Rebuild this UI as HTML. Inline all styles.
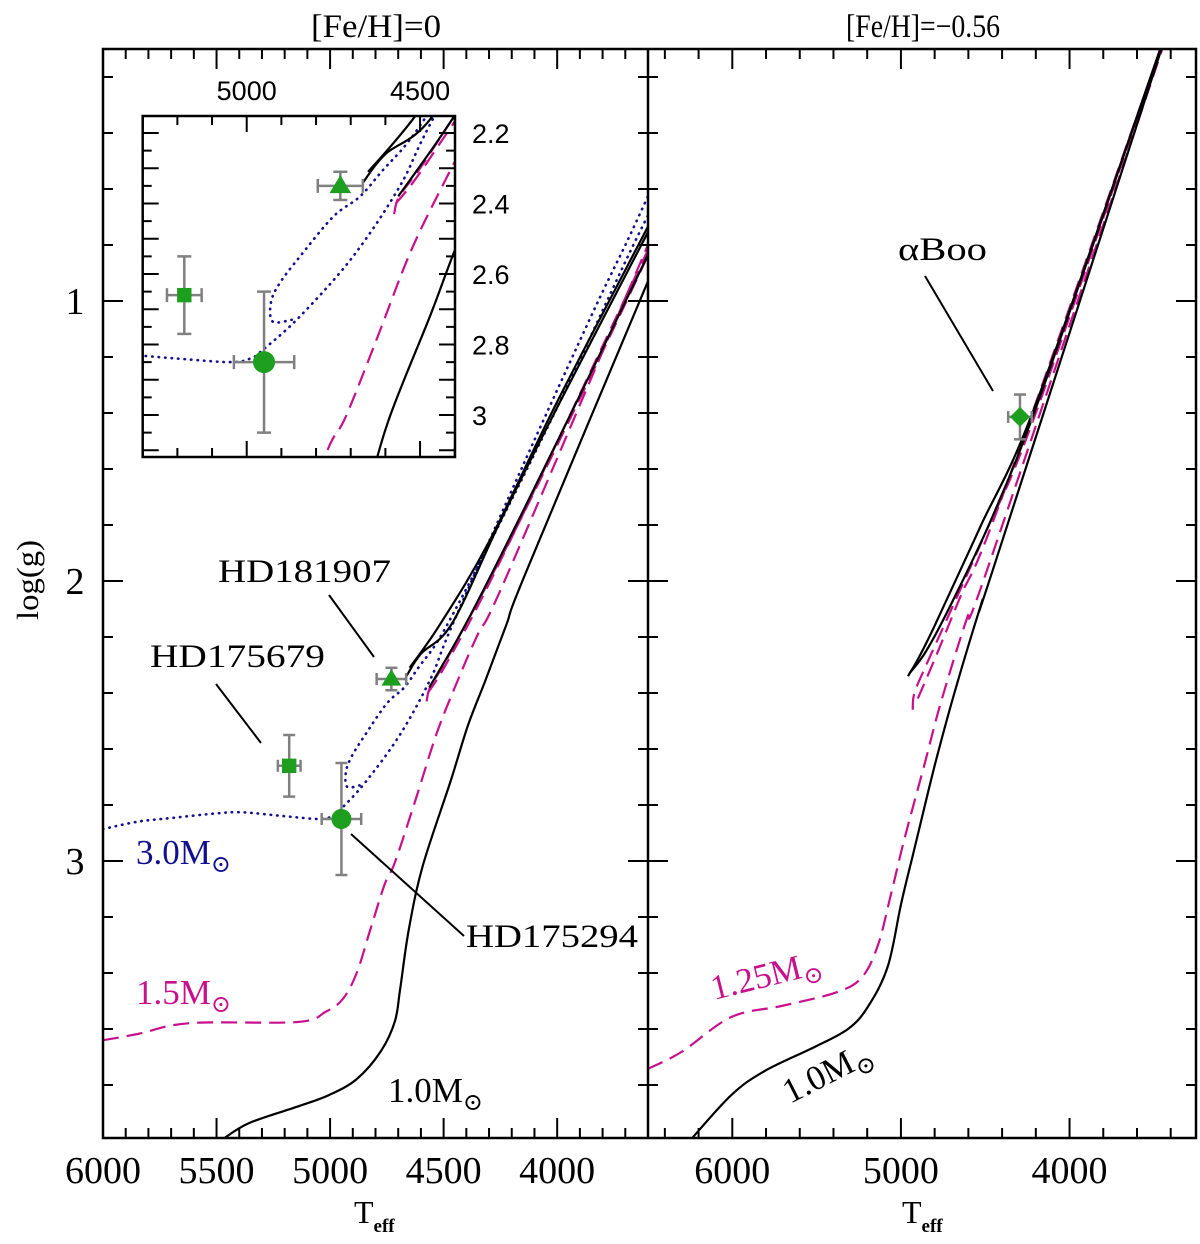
<!DOCTYPE html>
<html><head><meta charset="utf-8"><style>
body{margin:0;background:#fff}
svg{display:block}
.s{font-family:"Liberation Serif","DejaVu Serif",serif}
.ss{font-family:"Liberation Sans","DejaVu Sans",sans-serif}
</style></head><body>
<svg id="c" width="1200" height="1244" viewBox="0 0 1200 1244" xmlns="http://www.w3.org/2000/svg">
<defs>
<clipPath id="clipL"><rect x="103" y="49" width="545" height="1089"/></clipPath>
<clipPath id="clipR"><rect x="648" y="49" width="548" height="1089"/></clipPath>
<clipPath id="clipI"><rect x="142.7" y="116" width="312.3" height="341"/></clipPath>
</defs>
<g id="gL" clip-path="url(#clipL)"></g>
<g id="gR" clip-path="url(#clipR)"></g>
<rect x="142.7" y="116" width="312.3" height="341" fill="#fff"/>
<g id="gI" clip-path="url(#clipI)"></g>
<g id="gAx"></g>
<g id="gPts"></g>
<g id="gTxt">
<text class="s" x="311" y="37" font-size="33" textLength="130" lengthAdjust="spacingAndGlyphs">[Fe/H]=0</text>
<text class="s" x="846" y="37" font-size="33" textLength="154" lengthAdjust="spacingAndGlyphs">[Fe/H]=−0.56</text>
<text class="s" x="0" y="0" font-size="31" text-anchor="middle" textLength="80" lengthAdjust="spacingAndGlyphs" transform="translate(38,580) rotate(-90)">log(g)</text>
<text class="s" x="354" y="1223" font-size="32">T<tspan font-size="19" font-weight="bold" dy="9">eff</tspan></text>
<text class="s" x="902" y="1223" font-size="32">T<tspan font-size="19" font-weight="bold" dy="9">eff</tspan></text>
<text class="s" x="218" y="582" font-size="33" textLength="173" lengthAdjust="spacingAndGlyphs">HD181907</text>
<text class="s" x="150" y="667" font-size="33" textLength="175" lengthAdjust="spacingAndGlyphs">HD175679</text>
<text class="s" x="466" y="947" font-size="33" textLength="172" lengthAdjust="spacingAndGlyphs">HD175294</text>
<text class="s" x="898" y="260" font-size="33" textLength="89" lengthAdjust="spacingAndGlyphs">αBoo</text>
<text class="s" x="136" y="864" font-size="35" fill="#101090">3.0M<tspan font-size="24" dy="8">⊙</tspan></text>
<text class="s" x="136" y="1004" font-size="35" fill="#c8108c">1.5M<tspan font-size="24" dy="8">⊙</tspan></text>
<text class="s" x="388" y="1102" font-size="35" fill="#000">1.0M<tspan font-size="24" dy="8">⊙</tspan></text>
<text class="s" x="0" y="0" font-size="35" fill="#c8108c" transform="translate(714,1000) rotate(-14)">1.25M<tspan font-size="24" dy="8">⊙</tspan></text>
<text class="s" x="0" y="0" font-size="35" fill="#000" transform="translate(790,1104) rotate(-27)">1.0M<tspan font-size="24" dy="8">⊙</tspan></text>
<line x1="329" y1="595" x2="374" y2="657" stroke="#000" stroke-width="2"/>
<line x1="216" y1="684" x2="261" y2="743" stroke="#000" stroke-width="2"/>
<line x1="351" y1="834" x2="464" y2="936" stroke="#000" stroke-width="2"/>
<line x1="925" y1="276" x2="993" y2="391" stroke="#000" stroke-width="2"/>
</g>
</svg>
<script>
// ---- Left panel ([Fe/H]=0) tracks: Teff and log g ----
const L10_T=[5472,5357,5143,5005,4883,4776,4714,4691,4653,4592,4469,4393,4317,4225,4133,3590];
const L10_G=[3.993,3.936,3.877,3.836,3.779,3.679,3.571,3.454,3.243,3.018,2.714,2.516,2.357,2.159,1.96,0.91];
const L10b_T=[4664,4600,4462,4252,4000,3591];
const L10b_G=[2.34,2.26,2.15,1.79,1.38,0.74];
const L10c_T=[4650,4520,4300,4000,3591];
const L10c_G=[2.31,2.16,1.86,1.36,0.72];
const L10d_T=[4563,4400,4150,3800,3591];
const L10d_G=[2.38,2.15,1.75,1.17,0.82];
const L15_T=[6000,5847,5617,5143,5020,4944,4883,4822,4760,4714,4623,4530,4439,4347,4225,3590];
const L15_G=[3.64,3.618,3.579,3.575,3.539,3.493,3.40,3.243,3.084,3.004,2.78,2.543,2.357,2.186,1.987,0.78];
const L15b_T=[4575,4560,4500,4420,4300,4100,3800,3590];
const L15b_G=[2.43,2.38,2.30,2.18,2.00,1.68,1.18,0.82];
const L15c_T=[4570,4520,4450,4350,4150,3590];
const L15c_G=[2.40,2.34,2.24,2.09,1.76,0.80];
const L30_T=[6000,5850,5694,5500,5388,5200,5050,4990,4953,4846,4693,4558,4463,4151,3842,3694,3591];
const L30_G=[2.886,2.86,2.846,2.83,2.826,2.84,2.85,2.84,2.815,2.72,2.55,2.35,2.16,1.588,1.04,0.79,0.61];
const L30b_T=[4870,4925,4930,4904,4846,4750,4673,4607,4538,4460,4300,4000,3700,3591];
const L30b_G=[2.73,2.735,2.68,2.625,2.55,2.437,2.38,2.305,2.23,2.12,1.87,1.38,0.86,0.68];
// ---- Right panel ([Fe/H]=-0.56) tracks ----
const R10_T=[6243,6006,5808,5511,5314,5195,5077,4998,4918,4800,4681,4523,4444,3453];
const R10_G=[3.993,3.836,3.75,3.664,3.60,3.52,3.375,3.15,2.952,2.66,2.396,2.08,1.94,0.096];
const R10b_T=[4958,4900,4800,4530,4195,3464];
const R10b_G=[2.34,2.28,2.16,1.807,1.36,0.104];
const R10c_T=[4950,4850,4700,4450,4150,3464];
const R10c_G=[2.33,2.25,2.08,1.76,1.30,0.104];
const R125_T=[6500,6302,6006,5709,5393,5235,5136,5057,4977,4859,4760,4602,4483,3450];
const R125_G=[3.742,3.682,3.557,3.518,3.471,3.418,3.30,3.114,2.916,2.652,2.427,2.123,1.95,0.10];
const R125b_T=[4930,4920,4850,4700,4500,4200,3460];
const R125b_G=[2.46,2.40,2.30,2.10,1.83,1.40,0.10];
const R125c_T=[4900,4800,4650,4400,3460];
const R125c_G=[2.42,2.28,2.06,1.70,0.10];
// ---- Stars ----
const starNames=["HD175679","HD181907","HD175294"];
const starT=[5180,4730,4950];
const starG=[2.66,2.35,2.85];
const starET=[50,65,87];
const starEG=[0.11,0.04,0.2];
const booT=[4294], booG=[1.414], booET=[70], booEG=[0.08];

const NS="http://www.w3.org/2000/svg";
function mk(tag,attrs,parent){const e=document.createElementNS(NS,tag);for(const k in attrs)e.setAttribute(k,attrs[k]);parent.appendChild(e);return e;}
const sxL=T=>103+(6000-T)/2400*545;
const sxR=T=>648+(6500-T)/3250*548;
const sy=g=>301+(g-1)*280;
const sxI=T=>142.7+(5300-T)*0.3467;
const syI=g=>133+(g-2.2)*352.5;

const BL={stroke:"#000","stroke-width":2.2,fill:"none"};
const MG={stroke:"#c8108c","stroke-width":2.2,fill:"none","stroke-dasharray":"16 8"};
const BU={stroke:"#101090","stroke-width":2.6,fill:"none","stroke-dasharray":"0.5 6","stroke-linecap":"round"};
function track(Ts,Gs,fx,fy,style,parent,name){
  const P=Ts.map((t,i)=>[fx(t),fy(Gs[i])]);
  let d="M"+P[0][0].toFixed(1)+","+P[0][1].toFixed(1);
  for(let i=0;i<P.length-1;i++){
    const p0=P[i>0?i-1:i],p1=P[i],p2=P[i+1],p3=P[i+2<P.length?i+2:i+1];
    const c1=[p1[0]+(p2[0]-p0[0])/6,p1[1]+(p2[1]-p0[1])/6];
    const c2=[p2[0]-(p3[0]-p1[0])/6,p2[1]-(p3[1]-p1[1])/6];
    d+="C"+c1[0].toFixed(1)+","+c1[1].toFixed(1)+" "+c2[0].toFixed(1)+","+c2[1].toFixed(1)+" "+p2[0].toFixed(1)+","+p2[1].toFixed(1);
  }
  const a=Object.assign({d:d},style);
  const p=mk("path",a,parent);
  
  
}
const gL=document.getElementById("gL"),gR=document.getElementById("gR"),gI=document.getElementById("gI");
function leftTracks(fx,fy,g){
  track(L30_T,L30_G,fx,fy,BU,g,"track-3-0-msun");
  track(L30b_T,L30b_G,fx,fy,BU,g,"track-3-0-msun-loop");
  track(L15_T,L15_G,fx,fy,MG,g,"track-1-5-msun");
  track(L15b_T,L15b_G,fx,fy,MG,g,"track-1-5-msun-heb");
  track(L15c_T,L15c_G,fx,fy,MG,g,"track-1-5-msun-heb-2");
  track(L10_T,L10_G,fx,fy,BL,g,"track-1-0-msun");
  track(L10b_T,L10b_G,fx,fy,BL,g,"track-1-0-msun-heb");
  track(L10c_T,L10c_G,fx,fy,BL,g,"track-1-0-msun-heb-2");
  track(L10d_T,L10d_G,fx,fy,BL,g,"track-1-0-msun-heb-3");
}
leftTracks(sxL,sy,gL);
leftTracks(sxI,syI,gI);
track(R125_T,R125_G,sxR,sy,MG,gR,"track-1-25-msun");
track(R125b_T,R125b_G,sxR,sy,MG,gR,"track-1-25-msun-heb");
track(R125c_T,R125c_G,sxR,sy,MG,gR,"track-1-25-msun-heb-2");
track(R10_T,R10_G,sxR,sy,BL,gR,"track-1-0-msun-right");
track(R10b_T,R10b_G,sxR,sy,BL,gR,"track-1-0-msun-right-heb");
track(R10c_T,R10c_G,sxR,sy,BL,gR,"track-1-0-msun-right-heb-2");

// ---- Axes ----
const ax=document.getElementById("gAx");
function ln(x1,y1,x2,y2,w,name,col){const l=mk("line",{x1:x1,y1:y1,x2:x2,y2:y2,stroke:col||"#000","stroke-width":w},ax);return l;}
function txt(x,y,s,cls,size,anchor,name){const t=mk("text",{x:x,y:y,"font-size":size,"text-anchor":anchor,class:cls},ax);t.textContent=s;}
const fr1=mk("rect",{x:103,y:49,width:1093,height:1089,fill:"none",stroke:"#000","stroke-width":2.5},ax);


ln(648,49,648,1138,2.5,"panel-divider");
for(let T=3600;T<=6000;T+=100){const x=sxL(T),m=T%500===0,l=m?20:10;ln(x,1138,x,1138-l,2,"x-tick-left");ln(x,49,x,49+l,2,"x-tick-left-top");}
for(let T=3400;T<=6400;T+=200){const x=sxR(T),m=T%1000===0,l=m?20:10;ln(x,1138,x,1138-l,2,"x-tick-right");ln(x,49,x,49+l,2,"x-tick-right-top");}
for(let i=1;i<=19;i++){const g=i*0.2,y=sy(g),m=(i%5===0),l=m?20:10;
  ln(103,y,103+l,y,2,"y-tick-left");ln(648,y,648-l,y,2,"y-tick-mid");ln(648,y,648+l,y,2,"y-tick-mid-right");ln(1196,y,1196-l,y,2,"y-tick-right");}
[6000,5500,5000,4500,4000].forEach(T=>txt(sxL(T),1183,String(T),"s",38,"middle","x-tick-label-left"));
[6000,5000,4000].forEach(T=>txt(sxR(T),1183,String(T),"s",38,"middle","x-tick-label-right"));
[1,2,3].forEach(g=>txt(75,sy(g)+13,String(g),"s",38,"middle","y-tick-label"));
// inset axes
const fr2=mk("rect",{x:142.7,y:116,width:312.3,height:341,fill:"none",stroke:"#000","stroke-width":2.5},ax);


for(let T=4400;T<=5300;T+=100){const x=sxI(T),l=(T%500===0)?16:9;ln(x,457,x,457-l,2,"inset-x-tick");ln(x,116,x,116+l,2,"inset-x-tick-top");}
for(let i=0;i<=18;i++){const g=2.2+i*0.05,y=syI(g),l=(i%2===0)?16:9;ln(142.7,y,142.7+l,y,2,"inset-y-tick");ln(455,y,455-l,y,2,"inset-y-tick-right");}
[5000,4500].forEach(T=>txt(sxI(T),100,String(T),"ss",27,"middle","inset-x-tick-label"));
["2.2","2.4","2.6","2.8","3"].forEach(s=>txt(472,syI(parseFloat(s))+10,s,"ss",27,"start","inset-y-tick-label"));

// ---- Stars ----
const gp=document.getElementById("gPts");
const GREEN="#1e9e1e",GREY="#808080";
function errbar(fx,fy,T,G,eT,eG,cap,name){
  const g=mk("g",{stroke:GREY,"stroke-width":2.5},gp);
  
  
  const x=fx(T),y=fy(G),x1=fx(T+eT),x2=fx(T-eT),y1=fy(G-eG),y2=fy(G+eG);
  mk("line",{x1:x1,y1:y,x2:x2,y2:y},g);mk("line",{x1:x,y1:y1,x2:x,y2:y2},g);
  mk("line",{x1:x1,y1:y-cap,x2:x1,y2:y+cap},g);mk("line",{x1:x2,y1:y-cap,x2:x2,y2:y+cap},g);
  mk("line",{x1:x-cap,y1:y1,x2:x+cap,y2:y1},g);mk("line",{x1:x-cap,y1:y2,x2:x+cap,y2:y2},g);
}
function marker(kind,x,y,s,name){
  let e;
  if(kind===0)e=mk("rect",{x:x-s*0.6,y:y-s*0.6,width:s*1.2,height:s*1.2,fill:GREEN},gp);
  else if(kind===1)e=mk("polygon",{points:`${x},${y-s*0.9} ${x-s*0.9},${y+s*0.6} ${x+s*0.9},${y+s*0.6}`,fill:GREEN},gp);
  else if(kind===2)e=mk("circle",{cx:x,cy:y,r:s,fill:GREEN},gp);
  else e=mk("polygon",{points:`${x},${y-s} ${x+s},${y} ${x},${y+s} ${x-s},${y}`,fill:GREEN},gp);
  
  
}
for(let i=0;i<starT.length;i++){
  errbar(sxL,sy,starT[i],starG[i],starET[i],starEG[i],6,"errorbar-"+starNames[i].toLowerCase());
  marker(i,sxL(starT[i]),sy(starG[i]),[12,11,10][i],"star-"+starNames[i].toLowerCase());
  errbar(sxI,syI,starT[i],starG[i],starET[i],starEG[i],7,"inset-errorbar-"+starNames[i].toLowerCase());
  marker(i,sxI(starT[i]),syI(starG[i]),[12,12,11][i],"inset-star-"+starNames[i].toLowerCase());
}
errbar(sxR,sy,booT[0],booG[0],booET[0],booEG[0],6,"errorbar-alpha-boo");
marker(3,sxR(booT[0]),sy(booG[0]),10,"star-alpha-boo");
</script>
</body></html>
